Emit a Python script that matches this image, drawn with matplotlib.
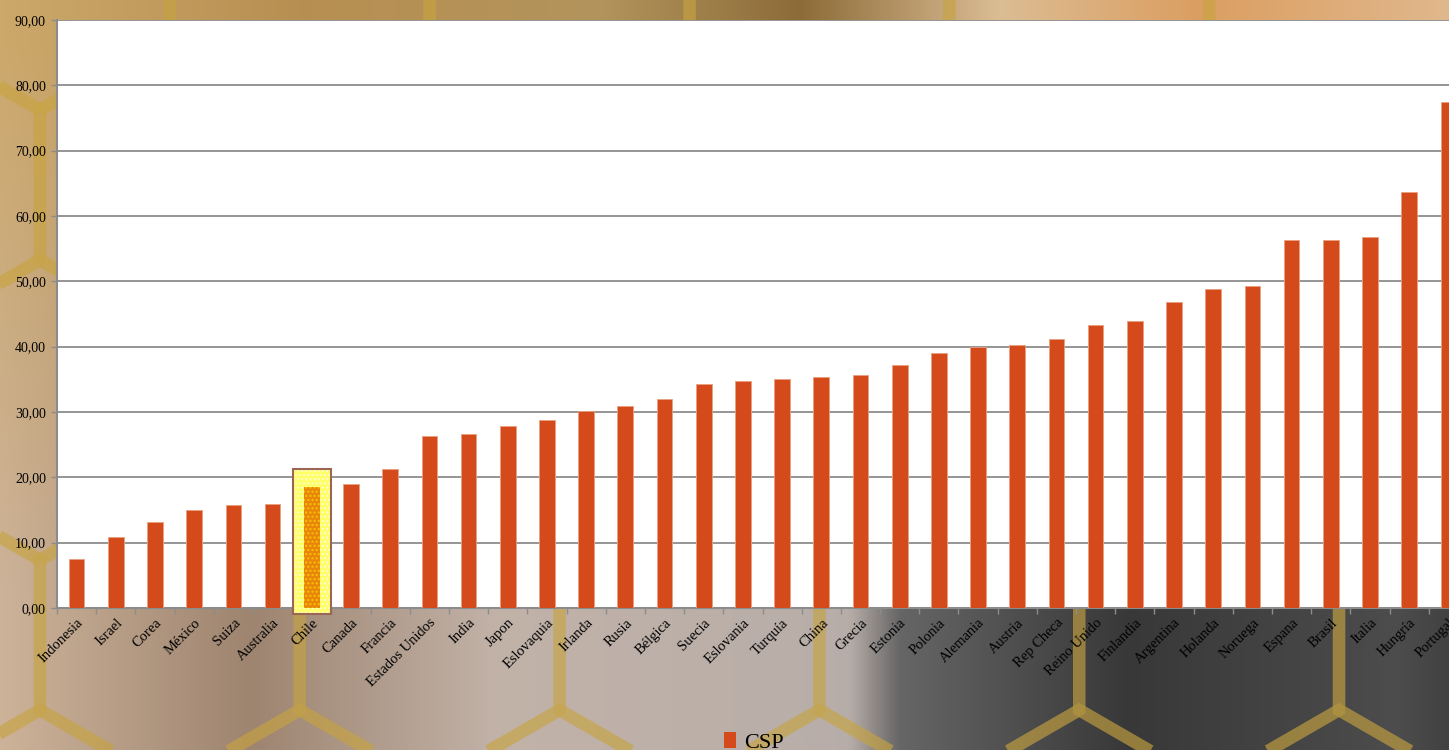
import numpy as np
import matplotlib
matplotlib.use("Agg")
import matplotlib.pyplot as plt
from matplotlib.patches import RegularPolygon, Rectangle

# ---------- data ----------
countries = [
    "Indonesia", "Israel", "Corea", "México", "Suiza", "Australia", "Chile",
    "Canada", "Francia", "Estados Unidos", "India", "Japon", "Eslovaquia",
    "Irlanda", "Rusia", "Bélgica", "Suecia", "Eslovania", "Turquía", "China",
    "Grecia", "Estonia", "Polonia", "Alemania", "Austria", "Rep Checa",
    "Reino Unido", "Finlandia", "Argentina", "Holanda", "Noruega", "Espana",
    "Brasil", "Italia", "Hungría", "Portugal",
]
csp = [
    7.5, 10.9, 13.2, 15.0, 15.8, 15.9, 18.5,
    19.0, 21.3, 26.3, 26.6, 27.9, 28.8,
    30.2, 30.9, 32.0, 34.3, 34.7, 35.1, 35.4,
    35.7, 37.2, 39.0, 40.0, 40.3, 41.2,
    43.3, 43.9, 46.8, 48.8, 49.3, 56.3,
    56.3, 56.8, 63.7, 77.5,
]
yticks = list(range(0, 91, 10))
highlight = "Chile"
series_name = "CSP"

FONT = ["Liberation Serif", "DejaVu Serif"]
plt.rcParams["font.family"] = FONT

W, H = 1449, 750
fig = plt.figure(figsize=(W / 100, H / 100), dpi=100)

# ---------- background (gradient + honeycomb) ----------
bg = fig.add_axes([0, 0, 1, 1], zorder=0)
bg.set_xlim(0, W)
bg.set_ylim(H, 0)
bg.axis("off")

xs = np.linspace(0, W, 300)
top_x = [0, 300, 600, 800, 1000, 1200, 1449]
top_c = np.array([[0.80, 0.66, 0.42], [0.72, 0.56, 0.32], [0.70, 0.58, 0.36],
                  [0.55, 0.42, 0.22], [0.86, 0.74, 0.58], [0.86, 0.62, 0.38],
                  [0.88, 0.72, 0.55]])
bot_x = [0, 250, 500, 850, 900, 1130, 1400, 1449]
bot_c = np.array([[0.80, 0.70, 0.60], [0.62, 0.52, 0.44], [0.76, 0.70, 0.66],
                  [0.72, 0.68, 0.66], [0.40, 0.40, 0.40], [0.22, 0.22, 0.22],
                  [0.30, 0.30, 0.30], [0.26, 0.26, 0.26]])
top_row = np.stack([np.interp(xs, top_x, top_c[:, k]) for k in range(3)], axis=-1)
bot_row = np.stack([np.interp(xs, bot_x, bot_c[:, k]) for k in range(3)], axis=-1)
t = np.clip((np.linspace(0, H, 150) - 40) / 560, 0, 1)[:, None, None]
img = top_row[None] * (1 - t) + bot_row[None] * t
bg.imshow(img, extent=[0, W, H, 0], aspect="auto", interpolation="bilinear")

r = 150
for row in range(-1, 6):
    for col in range(-1, 7):
        cx = col * np.sqrt(3) * r + (row % 2) * np.sqrt(3) * r / 2 + 40
        cy = row * 1.5 * r - 40
        bg.add_patch(RegularPolygon((cx, cy), 6, radius=r, orientation=0,
                                    facecolor="none", edgecolor="#c8a440",
                                    lw=9, alpha=0.4))

# ---------- main chart ----------
left, right, top, bottom = 57, 1468, 20, 608
ax = fig.add_axes([left / W, (H - bottom) / H, (right - left) / W, (bottom - top) / H],
                  zorder=2)
ax.set_facecolor("white")

x = np.arange(len(countries))
hi = countries.index(highlight)

ax.bar(x, csp, width=0.4, color="#d44a1a", edgecolor="#e8a080", linewidth=0.6, zorder=3)

# highlighted bar: dotted yellow box with brown border
box = (hi - 0.49, -0.9)
ax.add_patch(Rectangle(box, 0.99, csp[hi] + 3.7, facecolor="#ffff66",
                       edgecolor="#fffbd0", lw=0, hatch="....", zorder=3.5,
                       clip_on=False))
ax.add_patch(Rectangle(box, 0.99, csp[hi] + 3.7, facecolor="none",
                       edgecolor="#9a6658", lw=1.5, zorder=3.6, clip_on=False))
ax.bar([hi], [csp[hi]], width=0.4, color="#e8860c", edgecolor="#f5c400",
       hatch="....", linewidth=0, zorder=4)

ax.set_xlim(-0.5, len(countries) - 0.5)
ax.set_ylim(0, 90)
ax.set_yticks(yticks)
ax.set_yticklabels([f"{v:.2f}".replace(".", ",") for v in yticks], fontsize=10)
ax.set_xticks(x)
ax.set_xticklabels(countries, rotation=45, ha="right", rotation_mode="anchor",
                   fontsize=10.5)
ax.set_xticks(np.arange(len(countries) + 1) - 0.5, minor=True)
ax.tick_params(axis="x", which="major", length=0, pad=6)
ax.tick_params(axis="x", which="minor", length=4, color="#8c8c8c", width=1)
ax.tick_params(axis="y", length=4, color="#8c8c8c", width=1, pad=4)

ax.grid(axis="y", color="#8c8c8c", lw=1.3, zorder=1)
ax.set_axisbelow(True)
for s in ["top", "right"]:
    ax.spines[s].set_visible(False)
for s in ["left", "bottom"]:
    ax.spines[s].set_color("#8c8c8c")
    ax.spines[s].set_linewidth(1.5)

handle = Rectangle((0, 0), 1, 1, facecolor="#d44a1a")
fig.legend([handle], [series_name], loc="lower center", bbox_to_anchor=(0.52, -0.03),
           frameon=False, fontsize=16, handlelength=0.55, handleheight=0.75,
           handletextpad=0.35)

fig.savefig("out.png", dpi=100)
